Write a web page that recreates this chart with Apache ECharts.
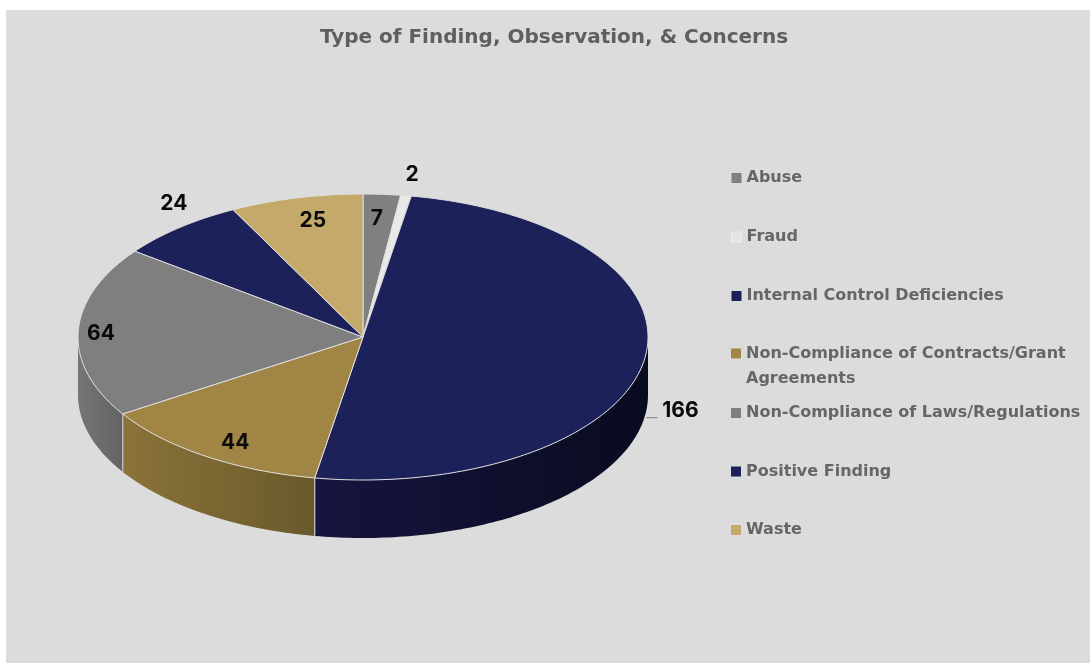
<!DOCTYPE html>
<html><head><meta charset="utf-8">
<style>html,body{margin:0;padding:0;background:#fff}#c{width:1090px;height:663px}</style>
<script src="https://cdn.jsdelivr.net/npm/echarts@6/dist/echarts.min.js"></script>
</head><body><div id="c"></div>
<script>
const titleText = 'Type of Finding, Observation, & Concerns';
const categories = ['Abuse','Fraud','Internal Control Deficiencies','Non-Compliance of Contracts/Grant\nAgreements','Non-Compliance of Laws/Regulations','Positive Finding','Waste'];
const values = [7,2,166,44,64,24,25];
const topColors = ['#808080','#e9e9e9','#1c2159','#a08545','#7f7f7f','#1c2159','#c4a96b'];
const wallLeft = ['#777777','#d0d0d0','#15153f','#8b7339','#757575','#15153f','#a89058'];
const wallRight = ['#5f5f5f','#b0b0b0','#090b20','#695a2b','#646464','#090b20','#806c3e'];
// label placement: multipliers along the slice's mid-angle [x, y]
const labelFactors = [[0.74,0.83],[1.14,1.147],[1.13,3.04],[0.81,0.89],[0.92,0.56],[1.03,1.215],[0.75,0.84]];

const CX=363, CY=337, RX=285, RY=143, DEPTH=58;
const total = values.reduce((a,b)=>a+b,0);
const pt=(deg,dy)=>[CX+RX*Math.sin(deg*Math.PI/180), CY-RY*Math.cos(deg*Math.PI/180)+(dy||0)];
function arc(a,b,dy){const out=[];const n=Math.max(2,Math.ceil(Math.abs(b-a)));for(let i=0;i<=n;i++)out.push(pt(a+(b-a)*i/n,dy));return out;}

function makeRender(idx){
  return function(params,api){
    const value=api.value(0);
    const before=values.slice(0,idx).reduce((a,b)=>a+b,0);
    const a0=before/total*360, a1=a0+value/total*360, mid=(a0+a1)/2;
    const children=[];
    const w0=Math.max(a0,90), w1=Math.min(a1,270);
    if(w1>w0){
      const top=arc(w0,w1,0), bot=arc(w0,w1,DEPTH).reverse();
      const xs=top.map(p=>p[0]);
      const minX=Math.min(...xs), maxX=Math.max(...xs);
      children.push({type:'polygon',shape:{points:top.concat(bot)},style:{
        fill:{type:'linear',x:minX,y:0,x2:maxX,y2:0,global:true,colorStops:[{offset:0,color:wallLeft[idx]},{offset:1,color:wallRight[idx]}]}
      }});
      [a0,a1].forEach(a=>{ if(a>=90&&a<=270&&a!==90){const p=pt(a,0),q=pt(a,DEPTH);
        children.push({type:'line',shape:{x1:p[0],y1:p[1],x2:q[0],y2:q[1]},style:{stroke:'#c9c9c9',lineWidth:1}});}});
    }
    children.push({type:'polygon',shape:{points:[[CX,CY]].concat(arc(a0,a1,0))},style:{fill:topColors[idx],stroke:'#dfdfdf',lineWidth:1,lineJoin:'round'}});
    const s=Math.sin(mid*Math.PI/180), c=Math.cos(mid*Math.PI/180);
    const lx=CX+RX*s*labelFactors[idx][0], ly=CY-RY*c*labelFactors[idx][1];
    if(labelFactors[idx][1]>2){
      children.push({type:'line',z2:5,shape:{x1:lx-34,y1:ly+7,x2:lx-23,y2:ly+7},style:{stroke:'#7f7f7f',lineWidth:1}});
    }
    children.push({type:'text',z2:10,style:{text:String(value),x:lx,y:ly,align:'center',verticalAlign:'middle',
      font:'bold 21px Inter, "Liberation Sans", sans-serif',fill:'#0a0a0a'}});
    return {type:'group',children};
  };
}

const series=categories.map((name,i)=>({
  name,type:'custom',coordinateSystem:'none',data:[[values[i]]],
  itemStyle:{color:topColors[i]},renderItem:makeRender(i),silent:true,animation:false
}));

const legendBase={left:731,orient:'vertical',selectedMode:false,itemWidth:10,itemHeight:10,itemGap:34,icon:'rect',
  textStyle:{color:'#666666',fontFamily:'"DejaVu Sans", sans-serif',fontWeight:'bold',fontSize:16,lineHeight:25},padding:0};
const legendItem=i=>({name:categories[i],itemStyle: i===1?{color:'#e4e4e4',borderColor:'#efefef',borderWidth:1}:{color:topColors[i]}});
const option={
  animation:false,
  backgroundColor:'#ffffff',
  title:{text:titleText,left:554,top:28,textAlign:'center',padding:0,
    textStyle:{color:'#5f5f5f',fontFamily:'"DejaVu Sans", sans-serif',fontWeight:'bold',fontSize:20}},
  graphic:[{type:'rect',z:-10,silent:true,shape:{x:6,y:10,width:1084,height:653},style:{fill:'#dcdcdc'}}],
  legend:[
    Object.assign({},legendBase,{top:165.5,data:[0,1,2].map(legendItem)}),
    Object.assign({},legendBase,{top:341,itemHeight:50,icon:'path://M0 7.5H10V17.5H0Z M0 0L0 0Z M0 50L0 50Z',data:[legendItem(3)]}),
    Object.assign({},legendBase,{top:400.5,itemGap:33.5,data:[4,5,6].map(legendItem)})
  ],
  series
};
const chart=echarts.init(document.getElementById('c'),null,{renderer:'canvas'});
chart.setOption(option);
</script></body></html>
